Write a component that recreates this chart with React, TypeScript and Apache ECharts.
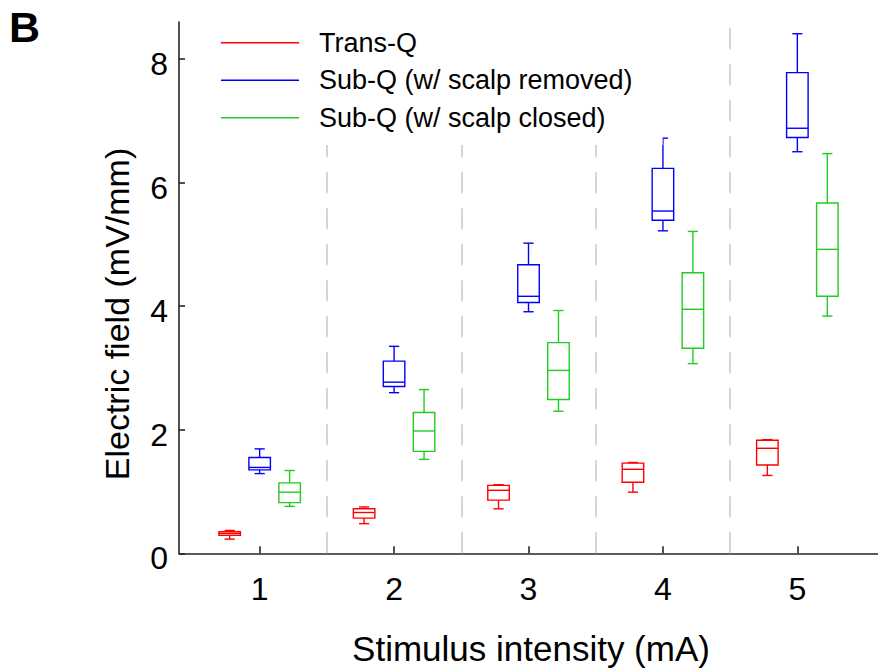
import React, { useEffect, useRef } from "react";
import * as echarts from "echarts";

const categories = [1, 2, 3, 4, 5];
const seriesNames = ["Trans-Q", "Sub-Q (w/ scalp removed)", "Sub-Q (w/ scalp closed)"];
const seriesColors = ["#ff0000", "#0000ff", "#22cc22"];
// [min, Q1, median, Q3, max] per stimulus intensity
const transQ = [
  [0.23, 0.29, 0.32, 0.35, 0.37],
  [0.48, 0.57, 0.66, 0.72, 0.75],
  [0.72, 0.86, 1.02, 1.1, 1.11],
  [0.99, 1.15, 1.36, 1.46, 1.47],
  [1.26, 1.43, 1.7, 1.83, 1.84],
];
const subQRemoved = [
  [1.29, 1.35, 1.39, 1.55, 1.69],
  [2.6, 2.7, 2.77, 3.11, 3.35],
  [3.91, 4.06, 4.16, 4.67, 5.02],
  [5.22, 5.39, 5.54, 6.23, 6.72],
  [6.5, 6.73, 6.88, 7.78, 8.41],
];
const subQClosed = [
  [0.76, 0.82, 0.99, 1.14, 1.34],
  [1.52, 1.65, 1.98, 2.28, 2.65],
  [2.3, 2.49, 2.96, 3.41, 3.93],
  [3.07, 3.32, 3.95, 4.54, 5.21],
  [3.84, 4.16, 4.92, 5.67, 6.47],
];
const groupOffsets = [-0.223, 0, 0.223];
const dividers = [1.5, 2.5, 3.5, 4.5];
const yTicks = [0, 2, 4, 6, 8];

const FONT = "'Liberation Sans', Arial, Helvetica, sans-serif";

function makeRender(offset: number, color: string) {
  return (params: any, api: any) => {
    const cat = api.value(0);
    const mn = api.value(1), q1 = api.value(2), md = api.value(3), q3 = api.value(4), mx = api.value(5);
    const xc = cat + offset;
    const hw = 0.08;
    const cw = 0.038;
    const xl = api.coord([xc - hw, 0])[0];
    const xr = api.coord([xc + hw, 0])[0];
    const xm = api.coord([xc, 0])[0];
    const cl = api.coord([xc - cw, 0])[0];
    const cr = api.coord([xc + cw, 0])[0];
    const y = (v: number) => api.coord([xc, v])[1];
    const style = { stroke: color, lineWidth: 1.4, fill: null };
    return {
      type: "group",
      children: [
        { type: "rect", shape: { x: xl, y: y(q3), width: xr - xl, height: y(q1) - y(q3) }, style: { stroke: color, lineWidth: 1.4, fill: "rgba(0,0,0,0)" } },
        { type: "line", shape: { x1: xl, y1: y(md), x2: xr, y2: y(md) }, style },
        { type: "line", shape: { x1: xm, y1: y(q3), x2: xm, y2: y(mx) }, style },
        { type: "line", shape: { x1: xm, y1: y(q1), x2: xm, y2: y(mn) }, style },
        { type: "line", shape: { x1: cl, y1: y(mx), x2: cr, y2: y(mx) }, style },
        { type: "line", shape: { x1: cl, y1: y(mn), x2: cr, y2: y(mn) }, style },
      ],
    };
  };
}

export default function App() {
  const ref = useRef<HTMLDivElement>(null);
  useEffect(() => {
    if (!ref.current) return;
    const chart = echarts.init(ref.current, undefined, { renderer: "svg" });
    const allData = [transQ, subQRemoved, subQClosed];
    const series: any[] = allData.map((d, i) => ({
      name: seriesNames[i],
      type: "custom",
      color: seriesColors[i],
      itemStyle: { color: seriesColors[i] },
      renderItem: makeRender(groupOffsets[i], seriesColors[i]),
      encode: { x: 0, y: [1, 2, 3, 4, 5] },
      data: d.map((v, j) => [categories[j], ...v]),
      z: 3,
      ...(i === 0
        ? {
            markLine: {
              silent: true,
              symbol: "none",
              label: { show: false },
              z: 1,
              lineStyle: { color: "#c8c8c8", width: 1.5, type: [21, 15] },
              data: dividers.map((x) => ({ xAxis: x })),
            },
          }
        : {}),
    }));
    chart.setOption({
      animation: false,
      backgroundColor: "#ffffff",
      grid: { left: 179, right: 0, top: 22, bottom: 114.7, containLabel: false },
      legend: {
        orient: "vertical",
        left: 205,
        top: 22,
        padding: [5.7, 30, 12.3, 16],
        backgroundColor: "#ffffff",
        itemGap: 7.5,
        itemWidth: 78,
        itemHeight: 1.5,
        icon: "rect",
        z: 10,
        selectedMode: false,
        textStyle: { fontFamily: FONT, fontSize: 27, lineHeight: 30, color: "#000", padding: [0, 0, 0, 15] },
        data: seriesNames.map((n, i) => ({ name: n, itemStyle: { color: seriesColors[i] } })),
      },
      xAxis: {
        type: "value",
        min: 0.4,
        max: 5.6,
        splitLine: { show: false },
        axisLine: { show: true, onZero: false, lineStyle: { color: "#262626", width: 1.6 } },
        axisTick: { show: true, inside: true, length: 7, customValues: categories, lineStyle: { color: "#262626", width: 1.6 } },
        axisLabel: { show: true, customValues: categories, margin: 20, fontFamily: FONT, fontSize: 32, color: "#000" },
      },
      yAxis: {
        type: "value",
        min: 0,
        max: 8.6,
        splitLine: { show: false },
        axisLine: { show: true, lineStyle: { color: "#262626", width: 1.6 } },
        axisTick: { show: true, inside: true, length: 6, customValues: yTicks, lineStyle: { color: "#262626", width: 1.6 } },
        axisLabel: {
          show: true,
          customValues: yTicks,
          margin: 11,
          formatter: "{a|{value}}",
          rich: { a: { fontFamily: FONT, fontSize: 32, color: "#000", padding: [10, 0, 0, 0] } },
          fontFamily: FONT,
          fontSize: 32,
          color: "#000",
        },
      },
      graphic: [
        { type: "text", left: 9, top: 5, style: { text: "B", font: `bold 43px ${FONT}`, fill: "#000" } },
        {
          type: "text",
          x: 117,
          y: 314,
          rotation: Math.PI / 2,
          style: { text: "Electric field (mV/mm)", font: `34px ${FONT}`, fill: "#000", align: "center", verticalAlign: "middle" },
        },
        {
          type: "text",
          x: 531,
          y: 648,
          style: { text: "Stimulus intensity (mA)", font: `35px ${FONT}`, fill: "#000", align: "center", verticalAlign: "middle" },
        },
      ],
      series,
    });
    return () => chart.dispose();
  }, []);
  return <div ref={ref} style={{ position: "fixed", left: 0, top: 0, width: 878, height: 668 }} />;
}
